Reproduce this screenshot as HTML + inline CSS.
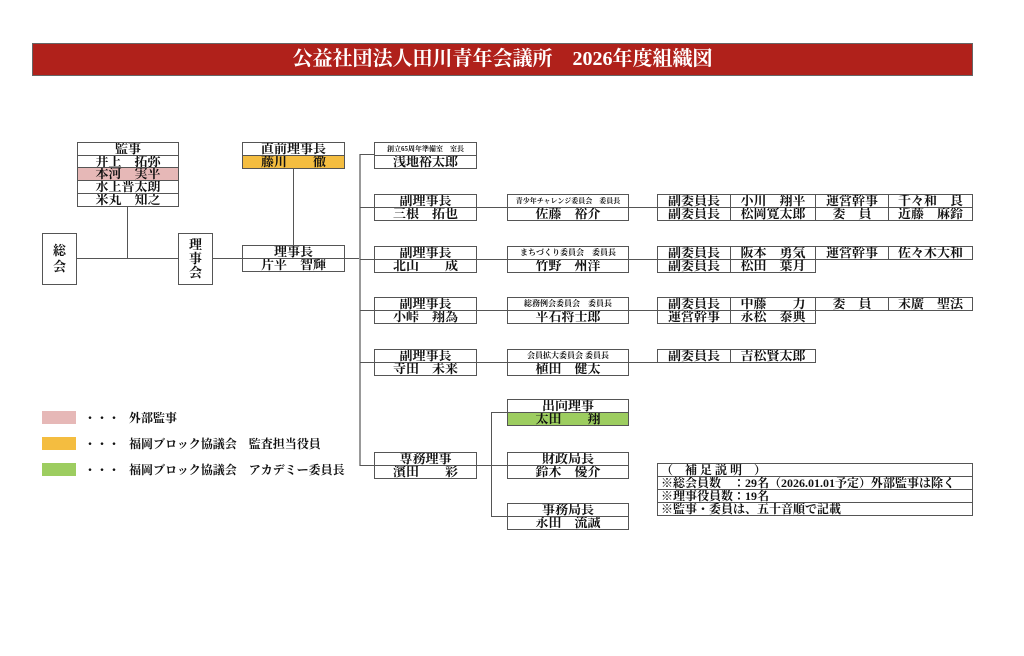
<!DOCTYPE html>
<html><head><meta charset="utf-8"><style>
body{margin:0;width:1024px;height:656px;background:#fff;position:relative;overflow:hidden;font-family:"Liberation Serif","Noto Serif CJK JP","Noto Serif CJK SC",serif;font-weight:bold;color:#111}
.c{position:absolute;border:1px solid #555;box-sizing:border-box;text-align:center;font-size:13px;line-height:12px;white-space:nowrap;overflow:hidden;background:#fff}
.s{font-size:7px;line-height:12px}
.l{position:absolute;background:#555}
.t{position:absolute;font-size:12px;line-height:14px;white-space:nowrap}
.n{text-align:left;padding-left:3px;font-size:12px}
</style></head><body>
<div style="position:absolute;left:32px;top:43px;width:941px;height:33px;background:#b0211b;border:1px solid #666;box-sizing:border-box;color:#fff;text-align:center;font-size:20px;line-height:31px">公益社団法人田川青年会議所　2026年度組織図</div>

<!-- lines -->
<div class="l" style="left:76px;top:258px;width:284px;height:1px"></div>
<div class="l" style="left:127px;top:206px;width:1px;height:52px"></div>
<div class="l" style="left:293px;top:168px;width:1px;height:78px"></div>
<div class="l" style="left:359px;top:154px;width:2px;height:312px;background:#999"></div>
<div class="l" style="left:360px;top:154px;width:14px;height:1px"></div>
<div class="l" style="left:360px;top:207px;width:297px;height:1px"></div>
<div class="l" style="left:360px;top:259px;width:297px;height:1px"></div>
<div class="l" style="left:360px;top:310px;width:297px;height:1px"></div>
<div class="l" style="left:360px;top:362px;width:297px;height:1px"></div>
<div class="l" style="left:360px;top:465px;width:147px;height:1px"></div>
<div class="l" style="left:491px;top:412px;width:1px;height:104px"></div>
<div class="l" style="left:491px;top:412px;width:16px;height:1px"></div>
<div class="l" style="left:491px;top:516px;width:16px;height:1px"></div>

<!-- left -->
<div class="c" style="left:42px;top:233px;width:35px;height:52px;line-height:16px;padding-top:9px">総<br>会</div>
<div class="c" style="left:178px;top:233px;width:35px;height:52px;line-height:14px;padding-top:4px">理<br>事<br>会</div>
<div class="c" style="left:77px;top:142px;width:102px;height:14px">監事</div>
<div class="c" style="left:77px;top:155px;width:102px;height:13px">井上　拓弥</div>
<div class="c" style="left:77px;top:167px;width:102px;height:14px;background:#e6b8b7">本河　実平</div>
<div class="c" style="left:77px;top:180px;width:102px;height:14px">水上晋太朗</div>
<div class="c" style="left:77px;top:193px;width:102px;height:14px">米丸　知之</div>
<div class="c" style="left:242px;top:142px;width:103px;height:14px">直前理事長</div>
<div class="c" style="left:242px;top:155px;width:103px;height:14px;background:#f4bd40">藤川　　徹</div>
<div class="c" style="left:242px;top:245px;width:103px;height:14px">理事長</div>
<div class="c" style="left:242px;top:258px;width:103px;height:14px">片平　智輝</div>

<!-- col2 -->
<div class="c s" style="left:374px;top:142px;width:103px;height:14px">創立65周年準備室　室長</div>
<div class="c" style="left:374px;top:155px;width:103px;height:14px">浅地裕太郎</div>
<div class="c" style="left:374px;top:194px;width:103px;height:14px">副理事長</div>
<div class="c" style="left:374px;top:207px;width:103px;height:14px">三根　拓也</div>
<div class="c" style="left:374px;top:246px;width:103px;height:14px">副理事長</div>
<div class="c" style="left:374px;top:259px;width:103px;height:14px">北山　　成</div>
<div class="c" style="left:374px;top:297px;width:103px;height:14px">副理事長</div>
<div class="c" style="left:374px;top:310px;width:103px;height:14px">小峠　翔為</div>
<div class="c" style="left:374px;top:349px;width:103px;height:14px">副理事長</div>
<div class="c" style="left:374px;top:362px;width:103px;height:14px">寺田　未来</div>
<div class="c" style="left:374px;top:452px;width:103px;height:14px">専務理事</div>
<div class="c" style="left:374px;top:465px;width:103px;height:14px">濱田　　彩</div>

<!-- col3 -->
<div class="c s" style="left:507px;top:194px;width:122px;height:14px">青少年チャレンジ委員会　委員長</div>
<div class="c" style="left:507px;top:207px;width:122px;height:14px">佐藤　裕介</div>
<div class="c s" style="left:507px;top:246px;width:122px;height:14px;font-size:8px">まちづくり委員会　委員長</div>
<div class="c" style="left:507px;top:259px;width:122px;height:14px">竹野　州洋</div>
<div class="c s" style="left:507px;top:297px;width:122px;height:14px;font-size:8px">総務例会委員会　委員長</div>
<div class="c" style="left:507px;top:310px;width:122px;height:14px">平石将士郎</div>
<div class="c s" style="left:507px;top:349px;width:122px;height:14px;font-size:8px">会員拡大委員会 委員長</div>
<div class="c" style="left:507px;top:362px;width:122px;height:14px">植田　健太</div>
<div class="c" style="left:507px;top:399px;width:122px;height:14px">出向理事</div>
<div class="c" style="left:507px;top:412px;width:122px;height:14px;background:#9dcd60">太田　　翔</div>
<div class="c" style="left:507px;top:452px;width:122px;height:14px">財政局長</div>
<div class="c" style="left:507px;top:465px;width:122px;height:14px">鈴木　優介</div>
<div class="c" style="left:507px;top:503px;width:122px;height:14px">事務局長</div>
<div class="c" style="left:507px;top:516px;width:122px;height:14px">永田　流誠</div>

<!-- col4 -->
<div class="c" style="left:657px;top:194px;width:74px;height:14px">副委員長</div>
<div class="c" style="left:730px;top:194px;width:86px;height:14px">小川　翔平</div>
<div class="c" style="left:815px;top:194px;width:74px;height:14px">運営幹事</div>
<div class="c" style="left:888px;top:194px;width:85px;height:14px">千々和　良</div>
<div class="c" style="left:657px;top:207px;width:74px;height:14px">副委員長</div>
<div class="c" style="left:730px;top:207px;width:86px;height:14px">松岡寛太郎</div>
<div class="c" style="left:815px;top:207px;width:74px;height:14px">委　員</div>
<div class="c" style="left:888px;top:207px;width:85px;height:14px">近藤　麻鈴</div>

<div class="c" style="left:657px;top:246px;width:74px;height:14px">副委員長</div>
<div class="c" style="left:730px;top:246px;width:86px;height:14px">阪本　勇気</div>
<div class="c" style="left:815px;top:246px;width:74px;height:14px">運営幹事</div>
<div class="c" style="left:888px;top:246px;width:85px;height:14px">佐々木大和</div>
<div class="c" style="left:657px;top:259px;width:74px;height:14px">副委員長</div>
<div class="c" style="left:730px;top:259px;width:86px;height:14px">松田　葉月</div>

<div class="c" style="left:657px;top:297px;width:74px;height:14px">副委員長</div>
<div class="c" style="left:730px;top:297px;width:86px;height:14px">中藤　　力</div>
<div class="c" style="left:815px;top:297px;width:74px;height:14px">委　員</div>
<div class="c" style="left:888px;top:297px;width:85px;height:14px">末廣　聖法</div>
<div class="c" style="left:657px;top:310px;width:74px;height:14px">運営幹事</div>
<div class="c" style="left:730px;top:310px;width:86px;height:14px">永松　泰典</div>

<div class="c" style="left:657px;top:349px;width:74px;height:14px">副委員長</div>
<div class="c" style="left:730px;top:349px;width:86px;height:14px">吉松賢太郎</div>

<!-- notes -->
<div class="c n" style="left:657px;top:463px;width:316px;height:14px">（　補 足 説 明　）</div>
<div class="c n" style="left:657px;top:476px;width:316px;height:14px">※総会員数　：29名（2026.01.01予定）外部監事は除く</div>
<div class="c n" style="left:657px;top:489px;width:316px;height:14px">※理事役員数：19名</div>
<div class="c n" style="left:657px;top:502px;width:316px;height:14px">※監事・委員は、五十音順で記載</div>

<!-- legend -->
<div style="position:absolute;left:42px;top:411px;width:34px;height:13px;background:#e6b8b7"></div>
<div style="position:absolute;left:42px;top:437px;width:34px;height:13px;background:#f4bd40"></div>
<div style="position:absolute;left:42px;top:463px;width:34px;height:13px;background:#9dcd60"></div>
<div class="t" style="left:84px;top:411px">・・・</div>
<div class="t" style="left:84px;top:437px">・・・</div>
<div class="t" style="left:84px;top:463px">・・・</div>
<div class="t" style="left:129px;top:411px">外部監事</div>
<div class="t" style="left:129px;top:437px">福岡ブロック協議会　監査担当役員</div>
<div class="t" style="left:129px;top:463px">福岡ブロック協議会　アカデミー委員長</div>
</body></html>
